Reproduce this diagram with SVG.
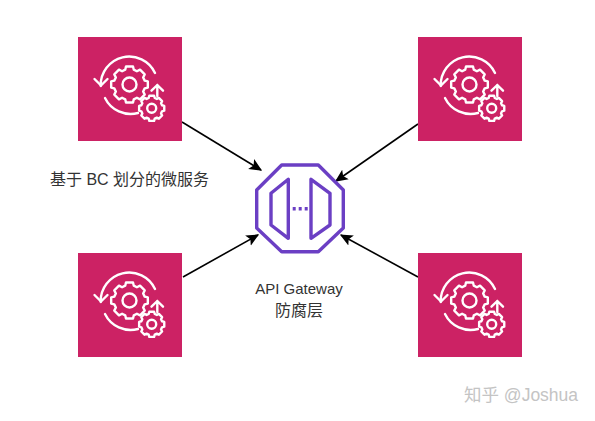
<svg xmlns="http://www.w3.org/2000/svg" xmlns:xlink="http://www.w3.org/1999/xlink" width="595" height="421" viewBox="0 0 595 421">
<style>
text{font-family:"Liberation Sans","Noto Sans CJK SC",sans-serif;font-size:16px;fill:#333}
.i{fill:none;stroke:#fff;stroke-width:2.400;stroke-linecap:round;stroke-linejoin:round;vector-effect:non-scaling-stroke}
.p{fill:none;stroke:#6b3fc4;stroke-width:3.400;stroke-linejoin:round}
.c{stroke:#000;stroke-width:1.600;fill:none;marker-end:url(#a)}
</style>
<defs>
<marker id="a" viewBox="0 0 10 10" refX="9" refY="5" markerWidth="8" markerHeight="8" orient="auto" markerUnits="strokeWidth"><path d="M0 0.500L10 5L0 9.500L2.200 5Z" fill="#000"/></marker>
<g id="svc">
<rect width="104" height="104" fill="#cc2264"/>
<path class="i" d="M77 36A28.500 28.500 0 0 0 22.700 49"/>
<path class="i" d="M16.500 42L23 48.500L29.500 42"/>
<path class="i" d="M27 61A28.500 28.500 0 0 0 60 76"/>
<path class="i" d="M79.300 59V48M73.500 53.700L79.300 48L85 53.700"/>
<circle class="i" cx="51.500" cy="47.500" r="7"/>
<path class="i" transform="translate(51.500 47.500) scale(.78) translate(-51.500 -53)" d="M47 30h9l1 4 4 2 4-2 6 6-2 4 2 4 4 1v8l-4 1-2 4 2 4-6 6-4-2-4 2-1 4h-9l-1-4-4-2-4 2-6-6 2-4-2-4-4-1v-8l4-1 2-4-2-4 6-6 4 2 4-2z"/>
<circle class="i" cx="73.700" cy="71.300" r="4.500"/>
<path class="i" transform="translate(73.700 71.300) scale(.8) translate(-73 -74.200)" d="M70 58.500h6l.8 2.800 2.600 1.200 2.600-1.300 4 4-1.300 2.600 1.200 2.600 2.800.8v6l-2.800.8-1.200 2.600 1.300 2.600-4 4-2.600-1.300-2.600 1.200-.8 2.800h-6l-.8-2.800-2.600-1.200-2.600 1.300-4-4 1.300-2.600-1.200-2.600-2.800-.8v-6l2.800-.8 1.200-2.600-1.300-2.600 4-4 2.600 1.300 2.600-1.200z"/>
</g>
</defs>
<rect width="595" height="421" fill="#fff"/>
<g id="connectors">
<path class="c" d="M182 122L261 170"/>
<path class="c" d="M418 124L336 181"/>
<path class="c" d="M183 277L258 235"/>
<path class="c" d="M418 277L341 235"/>
</g>
<g id="service-top-left"><use xlink:href="#svc" href="#svc" x="78" y="37"/></g>
<g id="service-top-right"><use xlink:href="#svc" href="#svc" x="418" y="37"/></g>
<g id="service-bottom-left"><use xlink:href="#svc" href="#svc" x="78" y="253"/></g>
<g id="service-bottom-right"><use xlink:href="#svc" href="#svc" x="418" y="253"/></g>
<g id="gateway">
<path class="p" d="M281.700 165H318.300L343.300 190V228L318.300 251.700H281.700L256.700 228V190Z"/>
<path class="p" d="M288.300 179.300V238.300L271 225V193.300Z"/>
<path class="p" d="M311 179.300V238.300L330 225V193.300Z"/>
<path d="M292.700 208.700H307.700" stroke="#6b3fc4" stroke-width="3.400" stroke-dasharray="3 3" fill="none"/>
</g>
<text id="label-bc" x="50" y="184.500">基于 BC 划分的微服务</text>
<text id="label-gw" x="299" y="294" text-anchor="middle" style="font-size:15px">API Gateway</text>
<text id="label-acl" x="299" y="315.500" text-anchor="middle">防腐层</text>
<text id="watermark" x="464" y="401" style="font-size:17.500px;fill:#c4c4c4">知乎 @Joshua</text>
</svg>
